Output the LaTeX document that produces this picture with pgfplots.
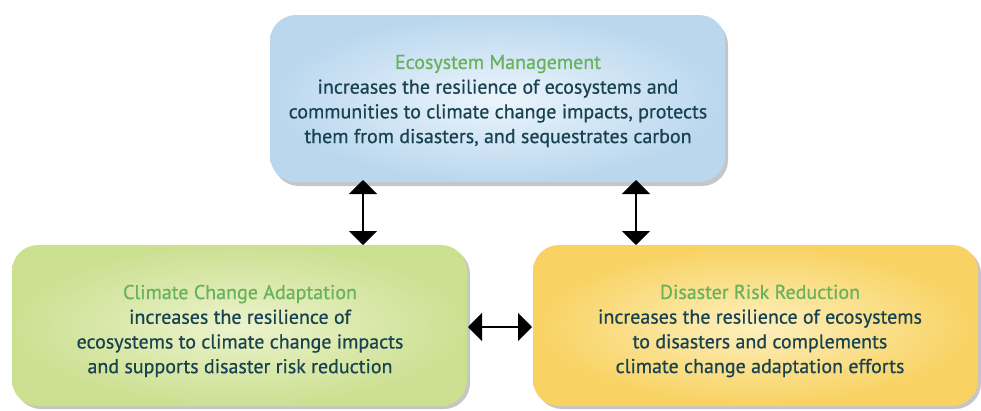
\documentclass[border=0pt]{standalone}
\usepackage{fontspec}
\setmainfont{PT Sans}
\usepackage{pgfplots}
\pgfplotsset{compat=1.18}
\usetikzlibrary{arrows.meta,shadows}
\definecolor{ttl}{RGB}{104,178,92}
\definecolor{bdy}{RGB}{24,66,80}
\definecolor{blueIn}{RGB}{236,245,252}
\definecolor{blueOut}{RGB}{186,215,238}
\definecolor{greenIn}{RGB}{236,243,204}
\definecolor{greenOut}{RGB}{204,224,146}
\definecolor{yelIn}{RGB}{253,240,190}
\definecolor{yelOut}{RGB}{248,210,98}
\begin{document}
\begin{tikzpicture}
\begin{axis}[
  x=1pt, y=1pt, scale only axis,
  xmin=0, xmax=981, ymin=0, ymax=410, y dir=reverse,
  hide axis, clip=false,
]
% boxes
\shade[rounded corners=26pt, inner color=blueIn, outer color=blueOut,
  drop shadow={shadow xshift=3pt, shadow yshift=-4pt, opacity=0.45}]
  (axis cs:270,15) rectangle (axis cs:725,182);
\shade[rounded corners=26pt, inner color=greenIn, outer color=greenOut,
  drop shadow={shadow xshift=3pt, shadow yshift=-3pt, opacity=0.45}]
  (axis cs:12,245) rectangle (axis cs:467,406);
\shade[rounded corners=26pt, inner color=yelIn, outer color=yelOut,
  drop shadow={shadow xshift=3pt, shadow yshift=-3pt, opacity=0.45}]
  (axis cs:533,245) rectangle (axis cs:978,406);
% arrows
\addplot[black, line width=2pt, {Triangle[width=28pt,length=14pt]}-{Triangle[width=28pt,length=14pt]}]
  coordinates {(363,180) (363,245)};
\addplot[black, line width=2pt, {Triangle[width=28pt,length=14pt]}-{Triangle[width=28pt,length=14pt]}]
  coordinates {(636,180) (636,245)};
\addplot[black, line width=2pt, {Triangle[width=28pt,length=14pt]}-{Triangle[width=28pt,length=14pt]}]
  coordinates {(468,327) (532,327)};
% texts
\node[align=center, font=\fontsize{20}{24.7}\selectfont\addfontfeature{FakeBold=0.6}, text=bdy] at (axis cs:498,101)
  {\textcolor{ttl}{Ecosystem Management}\\
   increases the resilience of ecosystems and\\
   communities to climate change impacts, protects\\
   them from disasters, and sequestrates carbon};
\node[align=center, font=\fontsize{20}{24.7}\selectfont\addfontfeature{FakeBold=0.6}, text=bdy] at (axis cs:240,331)
  {\textcolor{ttl}{Climate Change Adaptation}\\
   increases the resilience of\\
   ecosystems to climate change impacts\\
   and supports disaster risk reduction};
\node[align=center, font=\fontsize{20}{24.7}\selectfont\addfontfeature{FakeBold=0.6}, text=bdy] at (axis cs:760,331)
  {\textcolor{ttl}{Disaster Risk Reduction}\\
   increases the resilience of ecosystems\\
   to disasters and complements\\
   climate change adaptation efforts};
\end{axis}
\pgfresetboundingbox
\useasboundingbox (current axis.south west) rectangle (current axis.north east);
\end{tikzpicture}
\end{document}
